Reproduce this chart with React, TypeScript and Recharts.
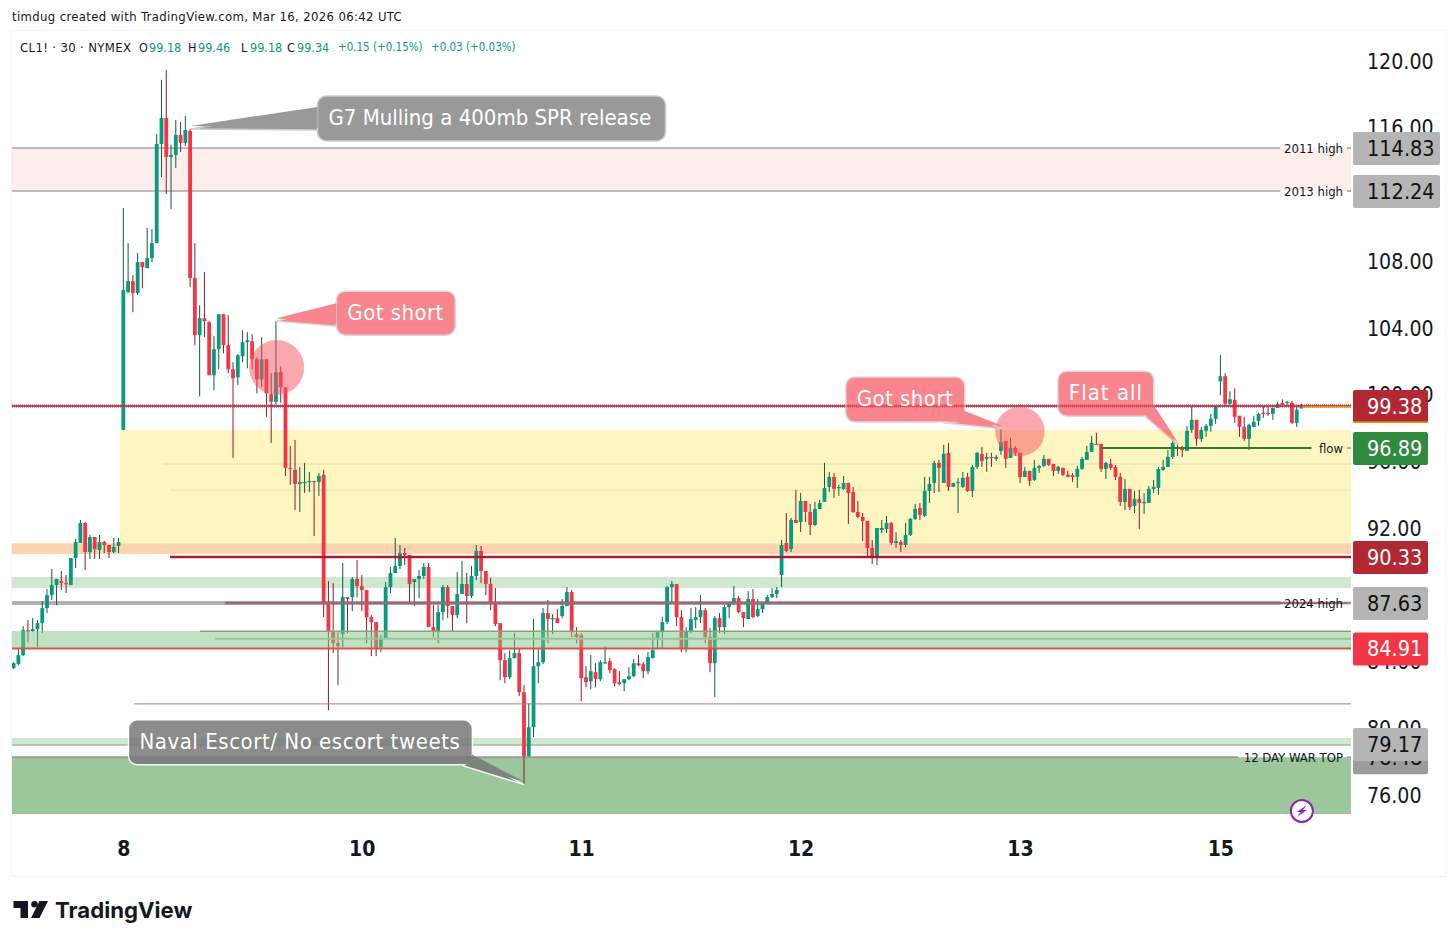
import React from 'react';
import {
  ComposedChart, Bar, XAxis, YAxis,
  ReferenceArea, ReferenceLine, ReferenceDot
} from 'recharts';

// CL1! 30 min candles
const opens = [
  83.62,83.86,84.40,85.90,85.84,85.96,86.32,87.22,88.00,88.60,
  88.84,88.72,88.60,90.22,91.12,92.32,90.58,91.48,90.70,91.18,
  91.00,90.58,90.94,97.90,106.15,106.81,106.09,107.95,107.59,108.19,
  109.09,115.03,116.59,114.25,114.37,115.57,115.09,115.81,106.99,103.57,
  104.59,104.35,101.17,102.73,104.83,102.97,101.53,101.05,102.31,103.15,
  103.21,102.13,100.93,102.13,100.03,99.58,101.35,100.45,95.62,95.50,
  94.66,94.72,94.78,94.84,94.78,95.20,87.52,85.78,85.12,85.66,
  87.88,87.88,88.96,88.54,88.30,86.68,86.38,84.88,85.36,88.48,
  89.32,89.74,90.52,90.40,88.78,88.96,89.14,89.68,86.08,85.78,
  86.98,88.48,87.34,86.80,88.06,88.66,87.94,89.14,90.64,89.44,
  88.66,87.52,86.32,84.10,83.08,84.22,84.52,82.18,78.34,80.08,
  83.74,83.98,86.92,86.56,86.62,86.74,87.34,88.18,85.66,85.60,
  83.08,82.84,83.38,82.96,83.92,84.04,83.56,82.78,82.72,82.96,
  83.14,83.92,83.86,83.44,84.22,85.30,85.78,86.38,88.48,88.66,
  86.68,84.82,85.84,86.50,86.68,87.10,85.48,83.92,86.62,86.08,
  87.28,87.52,87.82,86.98,86.56,87.76,86.74,87.16,87.52,87.88,
  88.06,89.20,91.12,90.76,92.50,92.38,93.64,92.98,92.20,93.16,
  93.58,94.48,95.08,94.42,94.36,94.72,94.18,92.98,92.68,92.44,
  90.82,90.28,91.90,91.96,92.32,91.12,91.18,91.00,91.60,92.56,
  93.22,92.74,94.24,94.72,95.92,94.72,96.52,94.48,94.72,94.48,
  95.08,94.24,95.68,96.46,96.16,96.28,96.16,96.64,97.24,96.22,
  96.82,96.52,95.08,95.44,94.90,95.62,95.74,96.16,95.86,95.44,
  95.62,95.20,95.20,95.08,95.56,96.10,96.58,97.06,97.06,95.56,
  95.86,95.68,95.08,93.58,94.36,93.34,93.76,93.52,93.52,94.36,
  94.42,95.50,95.68,96.28,96.88,96.76,96.64,97.90,98.50,97.36,
  97.84,98.14,98.56,100.81,101.11,99.46,99.70,98.74,98.08,97.36,
  98.08,98.44,98.92,98.92,98.86,99.22,99.52,99.52,99.52,98.32,
  99.18
];
const closes = [
  83.92,84.40,85.90,85.84,85.96,86.32,87.22,88.00,88.60,88.96,
  88.72,88.66,90.22,91.18,92.32,90.58,91.48,90.76,91.18,91.00,
  90.58,90.88,91.18,106.27,106.81,106.09,107.95,107.65,108.19,109.09,
  115.03,116.59,114.25,114.37,115.57,115.09,115.87,106.99,103.57,104.59,
  104.41,101.17,102.73,104.83,102.97,101.53,100.99,102.37,103.15,103.27,
  102.13,100.93,102.13,100.09,99.58,101.35,100.45,95.62,95.56,94.66,
  94.78,94.78,94.84,94.78,95.14,87.52,85.78,85.12,84.94,87.88,
  87.76,88.96,88.54,88.30,86.68,86.38,84.76,85.36,88.48,89.32,
  89.74,90.52,90.40,88.66,88.96,89.14,89.68,86.08,85.78,86.98,
  88.48,87.34,86.80,88.06,88.66,87.94,89.14,90.64,89.44,88.66,
  87.52,86.26,84.10,83.08,84.22,84.52,82.18,78.34,80.08,83.74,
  83.98,86.92,86.56,86.62,86.32,87.34,88.18,85.84,85.48,83.02,
  82.78,83.44,82.96,83.98,83.98,83.50,82.72,82.66,82.96,83.14,
  83.92,83.80,83.44,84.28,84.70,85.78,86.38,88.48,88.66,86.68,
  84.76,85.84,86.56,86.68,87.10,85.48,83.92,86.62,86.08,87.28,
  87.52,87.82,86.98,86.62,87.76,86.68,87.16,87.52,87.88,88.06,
  88.30,91.00,90.64,92.50,92.32,93.64,92.98,92.20,93.16,93.52,
  94.42,95.08,94.36,94.48,94.72,94.12,92.98,92.68,92.44,90.82,
  90.28,92.02,92.02,92.32,91.12,91.24,91.00,91.60,92.56,93.16,
  92.80,94.24,94.66,95.92,95.62,96.46,94.48,94.72,94.78,95.02,
  94.24,95.68,96.52,96.04,96.28,96.22,96.28,97.18,96.16,96.82,
  96.52,95.08,95.44,94.84,95.62,95.74,96.16,95.80,95.44,95.68,
  95.20,95.08,95.08,95.56,96.16,96.58,97.12,97.00,95.56,95.92,
  95.62,95.08,93.58,94.36,93.28,93.76,93.52,93.58,94.36,94.48,
  95.56,95.68,96.28,97.12,96.82,96.70,97.84,98.50,97.36,97.90,
  98.14,98.56,99.28,101.11,99.46,99.73,98.68,98.08,97.36,98.20,
  98.38,98.86,98.86,98.86,99.22,99.46,99.40,99.58,98.32,99.10,
  99.34
];
const highs = [
  83.98,84.76,86.14,86.50,86.62,86.50,87.64,88.36,89.56,88.96,
  89.44,89.20,90.22,91.36,92.50,92.38,91.60,91.48,91.60,91.24,
  91.00,91.42,91.42,111.19,109.09,107.17,108.49,107.95,110.00,109.93,
  115.63,118.87,119.47,114.97,116.47,116.35,116.71,115.93,109.09,105.37,
  107.35,104.41,103.51,104.83,104.83,104.77,101.95,102.43,103.87,103.75,
  103.63,102.25,103.45,102.13,101.29,104.41,101.71,100.45,96.94,97.30,
  95.68,95.92,95.38,94.84,95.32,95.50,88.84,88.72,85.78,89.92,
  87.88,89.08,90.10,89.20,88.30,86.80,86.38,85.60,88.78,89.68,
  91.42,91.00,90.82,90.40,88.96,89.50,89.92,89.92,87.40,87.40,
  88.60,88.60,87.34,89.38,90.04,89.32,89.74,91.00,90.94,89.44,
  89.02,88.42,86.32,84.52,84.70,85.72,84.82,82.60,81.52,86.56,
  84.82,87.22,87.70,86.86,87.16,87.76,88.48,88.30,86.08,85.72,
  83.74,84.40,83.92,84.10,84.94,84.22,83.62,83.44,82.96,83.68,
  84.16,84.40,83.98,84.58,85.72,85.84,86.68,88.54,88.84,88.66,
  87.10,86.08,87.22,87.28,88.00,87.22,86.02,86.74,86.92,87.40,
  87.58,88.54,87.94,86.98,88.24,88.36,87.76,87.52,88.00,88.42,
  88.48,91.30,92.92,92.62,94.30,94.12,93.64,93.46,93.58,93.70,
  95.92,95.38,95.32,94.60,95.14,94.72,94.48,93.64,92.92,92.44,
  91.30,92.02,92.50,92.74,92.38,91.78,91.30,92.32,92.62,93.46,
  93.52,95.08,95.08,96.04,96.10,97.00,97.12,94.72,95.02,95.38,
  95.32,95.80,96.58,96.88,96.52,96.52,96.40,97.96,97.24,97.42,
  96.94,96.52,95.68,95.44,96.10,95.80,96.40,96.16,95.86,95.74,
  95.62,95.44,95.32,95.74,96.28,96.94,97.54,97.72,97.06,95.98,
  96.16,95.80,95.32,94.96,94.36,94.24,94.30,94.12,94.54,94.90,
  95.68,96.10,96.70,97.24,97.06,96.94,98.14,99.28,98.50,98.08,
  98.26,98.86,99.34,102.37,101.29,100.21,100.39,98.74,98.68,98.26,
  98.74,98.92,99.28,99.28,99.22,99.58,99.73,99.64,99.64,99.40,
  99.46
];
const lows = [
  83.56,83.80,84.34,85.18,85.78,84.88,85.72,86.92,87.70,87.40,
  88.30,88.12,88.60,89.62,91.12,89.50,90.16,90.16,90.16,90.52,
  90.22,90.52,90.52,97.90,106.09,104.95,105.97,106.39,107.59,107.95,
  109.09,113.05,112.03,111.13,113.59,114.55,114.91,106.45,102.97,99.91,
  103.45,101.17,100.27,101.53,102.49,101.29,96.22,100.57,101.95,101.59,
  101.53,100.09,100.45,98.68,97.12,99.40,99.52,95.14,94.60,93.10,
  92.98,94.12,94.18,91.54,93.94,86.68,81.10,84.52,82.60,84.88,
  85.72,87.04,87.88,87.04,85.12,84.34,84.34,84.58,85.36,88.12,
  89.32,89.56,89.80,87.58,87.34,87.82,88.96,86.08,85.48,85.12,
  86.50,86.62,85.78,86.62,88.06,86.32,87.82,88.90,88.72,88.00,
  87.10,86.14,82.90,82.72,82.96,84.22,81.94,76.60,78.34,79.48,
  82.72,83.86,85.12,85.66,86.32,86.62,87.34,85.48,85.12,81.64,
  82.48,82.36,82.48,82.84,83.86,83.32,82.54,82.60,82.24,82.90,
  83.08,83.74,83.02,83.26,84.22,84.82,84.82,86.26,87.58,86.14,
  84.58,84.58,85.72,86.02,86.32,85.12,83.38,81.88,85.72,85.66,
  86.62,87.40,86.92,86.08,86.56,86.62,86.68,86.92,87.46,87.82,
  87.82,88.48,90.58,90.58,92.32,91.78,92.38,91.60,92.14,93.16,
  93.58,94.18,93.82,93.94,94.30,92.26,92.92,92.62,91.24,90.28,
  89.86,89.80,91.72,91.72,91.00,90.82,90.58,90.88,91.54,92.50,
  92.50,92.68,93.52,94.12,94.18,94.72,94.24,94.48,92.92,94.42,
  94.18,93.88,95.56,95.68,95.38,95.68,96.04,96.40,95.62,96.22,
  96.34,94.72,95.08,94.54,94.84,95.32,95.68,95.74,95.14,95.26,
  95.14,95.08,94.78,94.42,95.50,96.10,96.58,97.00,95.38,94.96,
  95.50,94.90,93.34,93.10,93.10,92.92,91.96,92.86,93.52,94.12,
  94.00,95.44,95.68,96.16,96.34,96.28,96.64,97.72,96.94,97.18,
  97.48,97.78,98.26,99.97,99.40,99.40,98.32,97.48,97.24,96.70,
  98.08,98.14,98.62,98.74,98.50,99.22,99.28,99.40,98.26,98.08,
  99.18
];

const dayTickIdx = [23, 73, 119, 165, 211, 253];
const dayLabels = ['8', '10', '11', '12', '13', '15'];
const priceTicks = [76, 80, 84, 88, 92, 96, 100, 104, 108, 112, 116, 120];

// horizontal zones: [upper price, lower price]
const pinkZone = [114.79, 112.21];
const gapZone = [97.89, 91.12];
const orangeZone = [91.10, 90.46];
const greenZoneA = [89.08, 88.42];
const greenZoneB = [85.85, 84.82];
const greenZoneC = [79.43, 79.01];
const deepZone = [78.29, 74.88];

const tagPrices = [114.79, 112.21, 99.33, 96.81, 90.28, 87.52, 84.80, 79.07, 78.29];
const tagTexts = ['114.83', '112.24', '99.38', '96.89', '90.33', '87.63', '84.91', '79.17', '78.48'];
const tagNotes = ['2011 high', '2013 high', '', 'flow', '', '2024 high', '', '', '12 DAY WAR TOP'];

const candles = opens.map((open, i) => ({
  idx: i,
  open,
  close: closes[i],
  high: highs[i],
  low: lows[i],
  range: [lows[i], highs[i]],
}));

const FONT = '"DejaVu Sans Condensed", "DejaVu Sans", sans-serif';
const X_MIN = -0.42;
const X_MAX = 280.3;
const UP = '#089981';
const DOWN = '#f23645';

const Candle = (props: any) => {
  const { x, width, y, height, payload } = props;
  const { open, close, high, low } = payload;
  const perUnit = height / (high - low);
  const yOf = (p: number) => y + (high - p) * perUnit;
  const cx = x + width / 2;
  const up = close >= open;
  const top = yOf(Math.max(open, close));
  const bodyH = Math.max(yOf(Math.min(open, close)) - top, 1.2);
  return (
    <g>
      <line x1={cx} x2={cx} y1={y} y2={y + height} stroke={up ? '#0f5e3a' : '#8c1c2e'} strokeWidth={1} />
      <rect x={cx - 1.9} y={top} width={3.8} height={bodyH} fill={up ? UP : DOWN} />
    </g>
  );
};

const tagStyle = [
  { bg: '#b5b5b5', color: '#111', w: 87 },
  { bg: '#b5b5b5', color: '#111', w: 87 },
  { bg: '#b22833', color: '#fff', w: 75, edge: '#f59e0b' },
  { bg: '#2e8b3e', color: '#fff', w: 75 },
  { bg: '#b22833', color: '#fff', w: 75 },
  { bg: '#b5b5b5', color: '#111', w: 75 },
  { bg: '#f23645', color: '#fff', w: 75 },
  { bg: '#b5b5b5', color: '#111', w: 75 },
  { bg: '#9c9c9c', color: '#111', w: 75 },
];

const PriceTag = (props: any) => {
  const { cx, cy, i } = props;
  const st = tagStyle[i];
  return (
    <g>
      {tagNotes[i] ? (
        <>
          <text x={cx - 8} y={cy + 5} textAnchor="end" fontSize={13} fill="#131722" fontFamily={FONT}>{tagNotes[i]}</text>
          <line x1={cx - 4} x2={cx} y1={cy} y2={cy} stroke="#999" strokeWidth={1.5} />
        </>
      ) : null}
      <rect x={cx + 2} y={cy - 16} width={st.w} height={33} rx={2} fill={st.bg} />
      {st.edge ? <rect x={cx + 2} y={cy + 15.5} width={st.w} height={1.5} fill={st.edge} /> : null}
      <text x={cx + 16} y={cy + 8} fontSize={21.5} fill={st.color} fontFamily={FONT}>{tagTexts[i]}</text>
    </g>
  );
};

// callout tips are data points, the box hangs off the tip
const Callout = ({ cx, cy, text, box, tail, fill, opacity, stroke, spacing }: any) => {
  const pts = tail.map(([dx, dy]: number[]) => `${cx + dx},${cy + dy}`).join(' ') + ` ${cx},${cy}`;
  return (
    <g>
      <g opacity={opacity}>
        <polygon points={pts} fill={fill} stroke={stroke || 'none'} strokeWidth={1.5} />
        <rect x={cx + box[0]} y={cy + box[1]} width={box[2]} height={box[3]} rx={9} fill={fill} stroke={stroke || 'none'} strokeWidth={1.5} />
        {stroke ? <polygon points={tail.map(([dx, dy]: number[]) => `${cx + dx},${cy + dy - 2}`).join(' ') + ` ${cx},${cy - 3}`} fill={fill} /> : null}
      </g>
      <text x={cx + box[0] + 11} y={cy + box[1] + 29} fontSize={22} fill="#fff" fontFamily={FONT} letterSpacing={spacing}>{text}</text>
    </g>
  );
};

const Bolt = ({ cx, cy }: any) => (
  <g>
    <circle cx={cx} cy={cy} r={11} fill="#fff" stroke="#8e24aa" strokeWidth={2} />
    <polygon points={`${cx + 5},${cy - 6} ${cx - 5},${cy + 1} ${cx - 1},${cy + 1} ${cx - 5},${cy + 6} ${cx + 5},${cy - 1} ${cx + 1},${cy - 1}`} fill="#8e24aa" />
  </g>
);

const Zone = (range: number[], fill: string, from = X_MIN, opacity = 1, zIndex = 50) => (
  <ReferenceArea x1={from} x2={X_MAX} y1={range[1]} y2={range[0]} fill={fill} fillOpacity={opacity} stroke="none" ifOverflow="visible" zIndex={zIndex} />
);

const Level = (price: number, from: number, to: number, stroke: string, width: number, dash?: string, zIndex = 350) => (
  <ReferenceLine
    segment={[{ x: from, y: price }, { x: to, y: price }]}
    stroke={stroke}
    strokeWidth={width}
    strokeDasharray={dash}
    ifOverflow="visible"
    zIndex={zIndex}
  />
);

const textStyle: React.CSSProperties = { position: 'absolute', whiteSpace: 'pre', fontFamily: FONT, fontSize: 13 };

// legend pieces: text and where it starts
const legendTexts = ['CL1! · 30 · NYMEX', 'O', '99.18', 'H', '99.46', 'L', '99.18', 'C', '99.34', '+0.15 (+0.15%)', '+0.03 (+0.03%)'];
const legendLefts = [20, 139, 149, 188, 198, 241, 250, 287, 297, 338, 431];

export default function App() {
  return (
    <div style={{ position: 'absolute', left: 0, top: 0, width: 1456, height: 944, background: '#fff', overflow: 'hidden' }}>
      <div style={{ position: 'absolute', left: 11, top: 30, width: 1433, height: 845, border: '1px solid #f0f3fa' }} />
      <div style={{ position: 'absolute', left: 0, top: 0 }}>
        <ComposedChart
          width={1456}
          height={944}
          data={candles}
          margin={{ top: 31, right: 0, bottom: 68, left: 12 }}
        >
          <XAxis
            dataKey="idx"
            type="number"
            domain={[X_MIN, X_MAX]}
            allowDataOverflow
            ticks={dayTickIdx}
            tickFormatter={(v: number) => dayLabels[dayTickIdx.indexOf(v)]}
            height={62}
            axisLine={false}
            tickLine={false}
            tickMargin={21}
            tick={{ fontSize: 21, fill: '#131722', fontFamily: FONT, fontWeight: 700 }}
            interval={0}
          />
          <YAxis
            orientation="right"
            type="number"
            domain={[74.883, 121.797]}
            allowDataOverflow
            ticks={priceTicks}
            tickFormatter={(v: number) => v.toFixed(2)}
            width={105}
            axisLine={false}
            tickLine={false}
            tickMargin={10}
            tick={{ fontSize: 21.2, fill: '#131722', fontFamily: FONT, textAnchor: 'start' }}
            interval={0}
          />

          {Zone(pinkZone, '#fdeeee')}
          {Zone(gapZone, '#fdf6c0', 22.2)}
          {Zone(orangeZone, '#fcd5b0')}
          {Zone(greenZoneA, '#cfe8cf')}
          {Zone(greenZoneC, '#cfe8cf')}
          {Zone(deepZone, '#9cc69c')}

          {Level(95.85, 31.2, X_MAX, '#eadcae', 1, undefined, 60)}
          {Level(94.29, 32.7, X_MAX, '#eadcae', 1, undefined, 60)}
          {Level(114.79, X_MIN, 265.5, '#a9a9a9', 1.5, undefined, 60)}
          {Level(112.21, X_MIN, 265.5, '#a9a9a9', 1.5, undefined, 60)}
          {Level(87.52, X_MIN, 265.5, '#b3b0b3', 4, undefined, 60)}
          {Level(79.01, X_MIN, X_MAX, '#a9b8a9', 1.5, undefined, 60)}
          {Level(78.29, X_MIN, 256.6, '#9b9b9b', 2, undefined, 60)}

          <Bar dataKey="range" barSize={4} shape={Candle} isAnimationActive={false} zIndex={300} />

          {Zone(greenZoneB, '#83c585', X_MIN, 0.5, 350)}
          {Level(85.83, 39, X_MAX, '#8e9e7e', 1.5)}
          {Level(85.39, 42.2, X_MAX, '#9cc49c', 2)}
          {Level(87.52, 44.2, X_MAX, '#9c6b78', 2.5)}
          {Level(84.80, X_MIN, X_MAX, '#d9534f', 2)}
          {Level(90.28, 32.7, X_MAX, '#a81c2c', 2.5)}
          {Level(81.48, 25.2, X_MAX, '#c0707c', 1)}
          {Level(99.33, X_MIN, X_MAX, '#a51c30', 1.5)}
          {Level(99.33, X_MIN, X_MAX, '#c2384a', 3, '1 1')}
          {Level(99.27, 270, X_MAX, '#f59e0b', 1.5)}
          {Level(96.81, 227.7, 272, '#2e7d32', 2)}

          <ReferenceDot x={55.07} y={101.63} r={27.5} fill="#f7525f" fillOpacity={0.5} stroke="none" ifOverflow="visible" zIndex={700} />
          <ReferenceDot x={210.9} y={97.80} r={24.7} fill="#f7525f" fillOpacity={0.5} stroke="none" ifOverflow="visible" zIndex={700} />

          <ReferenceDot x={37} y={115.93} ifOverflow="visible" zIndex={800} shape={(p: any) => (
            <Callout {...p} text="G7 Mulling a 400mb SPR release" box={[127, -33, 348, 45]} tail={[[127, -20], [127, 1]]} fill="#999" opacity={1} spacing={0} />
          )} />
          <ReferenceDot x={55} y={104.41} ifOverflow="visible" zIndex={800} shape={(p: any) => (
            <Callout {...p} text="Got short" box={[60, -30, 119, 44]} tail={[[60, -16], [60, 5]]} fill="#f7525f" opacity={0.7} spacing={0.45} />
          )} />
          <ReferenceDot x={207.3} y={97.95} ifOverflow="visible" zIndex={800} shape={(p: any) => (
            <Callout {...p} text="Got short" box={[-157, -52, 119, 45]} tail={[[-38, -16], [-58, -6]]} fill="#f7525f" opacity={0.7} spacing={0.45} />
          )} />
          <ReferenceDot x={244} y={96.98} ifOverflow="visible" zIndex={800} shape={(p: any) => (
            <Callout {...p} text="Flat all" box={[-120, -74, 96, 45]} tail={[[-24, -38], [-33, -29]]} fill="#f7525f" opacity={0.7} spacing={1} />
          )} />
          <ReferenceDot x={107} y={76.63} ifOverflow="visible" zIndex={800} shape={(p: any) => (
            <Callout {...p} text="Naval Escort/ No escort tweets" box={[-396, -65, 344, 45]} tail={[[-61, -19], [-52, -28]]} fill="#787878" opacity={0.85} stroke="#fff" spacing={0.55} />
          )} />
          <ReferenceDot x={270} y={75.06} ifOverflow="visible" zIndex={800} shape={(p: any) => <Bolt {...p} />} />

          {[8, 7, 0, 1, 3, 5, 6, 4, 2].map((i) => (
            <ReferenceDot key={i} x={X_MAX} y={tagPrices[i]} ifOverflow="visible" zIndex={3000 + (8 - i)} shape={(p: any) => <PriceTag {...p} i={i} />} />
          ))}
        </ComposedChart>
      </div>

      <div style={{ ...textStyle, left: 12, top: 9, color: '#131722', letterSpacing: 0.35 }}>timdug created with TradingView.com, Mar 16, 2026 06:42 UTC</div>
      {legendTexts.map((t, i) => (
        <div key={i} style={{
          ...textStyle,
          left: legendLefts[i],
          top: 40,
          fontSize: i === 0 ? 13 : i > 8 ? 11.5 : 12.5,
          letterSpacing: i === 0 ? 0.35 : 0,
          color: i === 0 || (i < 9 && i % 2 === 1) ? '#131722' : UP,
        }}>{t}</div>
      ))}

      <svg style={{ position: 'absolute', left: 0, top: 0 }} width={220} height={944} pointerEvents="none">
        <polygon points="13.5,901 28,901 28,918 20.5,918 20.5,908 13.5,908" fill="#131722" />
        <circle cx={34.5} cy={904.3} r={3.3} fill="#131722" />
        <polygon points="48,901 39.5,918 31,918 39.5,901" fill="#131722" />
        <text x={55} y={918} fontSize={22.2} fontWeight={700} fontFamily="Inter, sans-serif" fill="#131722">TradingView</text>
      </svg>
    </div>
  );
}
